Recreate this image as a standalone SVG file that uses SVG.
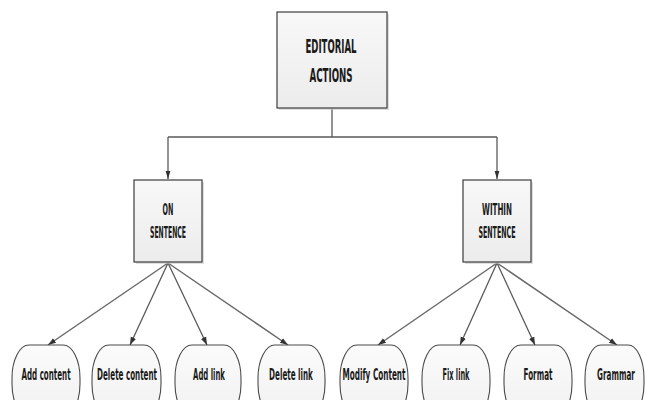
<svg xmlns="http://www.w3.org/2000/svg" width="645" height="400" viewBox="0 0 645 400">
<style>
.box{fill:url(#gBox);stroke:#3c3c3c;stroke-width:1.2}
.leaf{fill:url(#gLeaf);stroke:#4a4a4a;stroke-width:1.1}
.sh{fill:#c8c8c8;opacity:0.6}
.t{font-family:"Liberation Sans Narrow","DejaVu Sans Condensed","Liberation Sans",sans-serif;font-weight:bold;fill:#1a1a1a;text-anchor:middle}
.big{font-size:19px}
.mid{font-size:16px}
.sm{font-size:15px}
.c{fill:none;stroke:#5a5a5a;stroke-width:1.3}
.cl{fill:none;stroke:#6a6a6a;stroke-width:1.5}
</style>
<defs>
<linearGradient id="gBox" x1="0" y1="0" x2="0" y2="1">
<stop offset="0" stop-color="#f8f8f8"/><stop offset="1" stop-color="#ececec"/>
</linearGradient>
<linearGradient id="gLeaf" x1="0" y1="0" x2="0" y2="1">
<stop offset="0" stop-color="#fbfbfb"/><stop offset="1" stop-color="#f1f1f1"/>
</linearGradient>
<marker id="ah" viewBox="0 0 10 10" refX="10" refY="5" markerWidth="8" markerHeight="8" markerUnits="userSpaceOnUse" orient="auto">
<path d="M0,1.5 L10,5 L0,8.5 Z" fill="#333"/>
</marker>
<marker id="ah2" viewBox="0 0 10 10" refX="10" refY="5" markerWidth="11" markerHeight="8" markerUnits="userSpaceOnUse" orient="auto">
<path d="M0,2 L10,5 L0,8 Z" fill="#333"/>
</marker>
</defs>
<rect width="645" height="400" fill="#ffffff"/>

<g id="connectors">
<path class="c" d="M332,108 V137 M168,137 H497"/>
<path class="c" d="M168,137 V179" marker-end="url(#ah2)"/>
<path class="c" d="M497,137 V179" marker-end="url(#ah2)"/>
<path class="cl" d="M168,263 L48,345" marker-end="url(#ah)"/>
<path class="c" d="M168,263 L130,345" marker-end="url(#ah)"/>
<path class="c" d="M168,263 L207,345" marker-end="url(#ah)"/>
<path class="cl" d="M168,263 L288,345" marker-end="url(#ah)"/>
<path class="cl" d="M497,263 L378,345" marker-end="url(#ah)"/>
<path class="c" d="M497,263 L460,345" marker-end="url(#ah)"/>
<path class="c" d="M497,263 L535,345" marker-end="url(#ah)"/>
<path class="cl" d="M497,263 L617,345" marker-end="url(#ah)"/>
</g>

<g id="editorial-actions">
<rect class="sh" x="279" y="14" width="110" height="96"/>
<rect class="box" x="277" y="12" width="110" height="96"/>
<text class="t big" transform="translate(331,53) scale(0.6,1)" textLength="85" lengthAdjust="spacingAndGlyphs">EDITORIAL</text>
<text class="t big" transform="translate(331,82) scale(0.6,1)" textLength="72" lengthAdjust="spacingAndGlyphs">ACTIONS</text>
</g>

<g id="on-sentence">
<rect class="sh" x="136" y="182" width="68" height="82"/>
<rect class="box" x="134" y="180" width="68" height="82"/>
<text class="t mid" transform="translate(168,215) scale(0.6,1)" textLength="18" lengthAdjust="spacingAndGlyphs">ON</text>
<text class="t mid" transform="translate(168,238) scale(0.6,1)" textLength="60" lengthAdjust="spacingAndGlyphs">SENTENCE</text>
</g>

<g id="within-sentence">
<rect class="sh" x="465" y="182" width="68" height="82"/>
<rect class="box" x="463" y="180" width="68" height="82"/>
<text class="t mid" transform="translate(497,215) scale(0.6,1)" textLength="50" lengthAdjust="spacingAndGlyphs">WITHIN</text>
<text class="t mid" transform="translate(497,238) scale(0.6,1)" textLength="62" lengthAdjust="spacingAndGlyphs">SENTENCE</text>
</g>

<g id="add-content">
<rect class="leaf" x="12" y="345" width="68" height="72" rx="17" ry="33"/>
<text class="t sm" transform="translate(46,380) scale(0.6,1)" textLength="82" lengthAdjust="spacingAndGlyphs">Add content</text>
</g>
<g id="delete-content">
<rect class="leaf" x="92" y="345" width="69" height="72" rx="17" ry="33"/>
<text class="t sm" transform="translate(127,380) scale(0.6,1)" textLength="100" lengthAdjust="spacingAndGlyphs">Delete content</text>
</g>
<g id="add-link">
<rect class="leaf" x="175" y="345" width="66" height="72" rx="17" ry="33"/>
<text class="t sm" transform="translate(209,380) scale(0.6,1)" textLength="53" lengthAdjust="spacingAndGlyphs">Add link</text>
</g>
<g id="delete-link">
<rect class="leaf" x="258" y="345" width="67" height="72" rx="17" ry="33"/>
<text class="t sm" transform="translate(291,380) scale(0.6,1)" textLength="73" lengthAdjust="spacingAndGlyphs">Delete link</text>
</g>
<g id="modify-content">
<rect class="leaf" x="340" y="345" width="68" height="72" rx="17" ry="33"/>
<text class="t sm" transform="translate(374,380) scale(0.6,1)" textLength="105" lengthAdjust="spacingAndGlyphs">Modify Content</text>
</g>
<g id="fix-link">
<rect class="leaf" x="422" y="345" width="68" height="72" rx="17" ry="33"/>
<text class="t sm" transform="translate(456,380) scale(0.6,1)" textLength="45" lengthAdjust="spacingAndGlyphs">Fix link</text>
</g>
<g id="format">
<rect class="leaf" x="504" y="345" width="68" height="72" rx="17" ry="33"/>
<text class="t sm" transform="translate(538,380) scale(0.6,1)" textLength="48" lengthAdjust="spacingAndGlyphs">Format</text>
</g>
<g id="grammar">
<rect class="leaf" x="585" y="345" width="59" height="72" rx="16" ry="33"/>
<text class="t sm" transform="translate(616,380) scale(0.6,1)" textLength="63" lengthAdjust="spacingAndGlyphs">Grammar</text>
</g>
</svg>
